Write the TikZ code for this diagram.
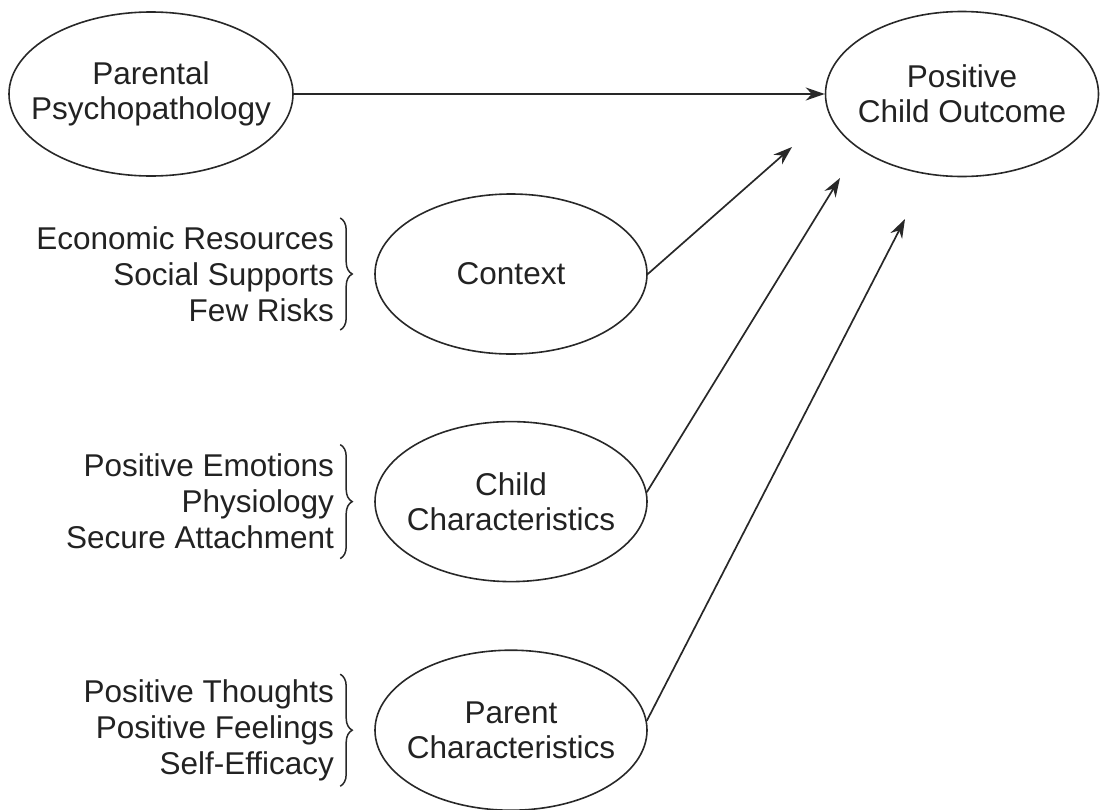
\documentclass[tikz,border=0pt]{standalone}
\usepackage{fontspec}
\setmainfont{Liberation Sans}
\usepackage{tikz}
\usetikzlibrary{shapes.geometric, arrows.meta, positioning, calc, decorations.pathreplacing}
\definecolor{inkgray}{RGB}{34, 34, 34}
\definecolor{linegray}{RGB}{40, 40, 40}
\tikzset{
  >=Stealth,
  bubble/.style={draw=linegray, line width=1.6pt, ellipse, minimum width=272pt, minimum height=160pt, inner sep=0pt},
  bubbletext/.style={font=\fontsize{31.5}{35}\selectfont, text=inkgray, align=center},
  listtext/.style={font=\fontsize{31.5}{36}\selectfont, text=inkgray, align=right, inner sep=0pt},
  listbrace/.style={decorate, decoration={brace, amplitude=12pt}, line width=1.5pt, linegray},
  flowarrow/.style={-{Stealth[length=19pt, width=13pt]}, line width=1.7pt, linegray}
}

\begin{document}
\begin{tikzpicture}[x=1pt, y=-1pt]
    \useasboundingbox (0,0) rectangle (1100,809);

    \node (parpsy) [bubble, minimum width=284pt, minimum height=164pt, label={[bubbletext]center:Parental\\Psychopathology}] at (151,94) {};
    \node (outcome) [bubble, minimum width=273pt, minimum height=165pt, label={[bubbletext]center:Positive\\Child Outcome}] at (962,94) {};

    \node (ctx) [bubble, label={[bubbletext]center:Context}] at (511,274) {};
    \node (child) [bubble, below=66pt of ctx, label={[bubbletext]center:Child\\Characteristics}] {};
    \node (parent) [bubble, below=67pt of child, label={[bubbletext]center:Parent\\Characteristics}] {};

    \node (ctxlist) [listtext, left=40pt of ctx] {Economic Resources\\Social Supports\\Few Risks};
    \node (childlist) [listtext, left=40pt of child] {Positive Emotions\\Physiology\\Secure Attachment};
    \node (parentlist) [listtext, left=40pt of parent] {Positive Thoughts\\Positive Feelings\\Self-Efficacy};

    \draw[listbrace] ($(ctxlist.east)+(6,-56)$) -- ($(ctxlist.east)+(6,56)$);
    \draw[listbrace] ($(childlist.east)+(6,-57)$) -- ($(childlist.east)+(6,57)$);
    \draw[listbrace] ($(parentlist.east)+(6,-56)$) -- ($(parentlist.east)+(6,56)$);

    \coordinate (tipctx) at (792,147);
    \coordinate (tipchild) at (840,178);
    \coordinate (tipparent) at (905,219);

    \draw[flowarrow, line width=2.2pt] (parpsy) -- (outcome);
    \draw[flowarrow] (ctx.east) -- (tipctx);
    \draw[flowarrow] (child.4) -- (tipchild);
    \draw[flowarrow] (parent.4) -- (tipparent);
\end{tikzpicture}
\end{document}
